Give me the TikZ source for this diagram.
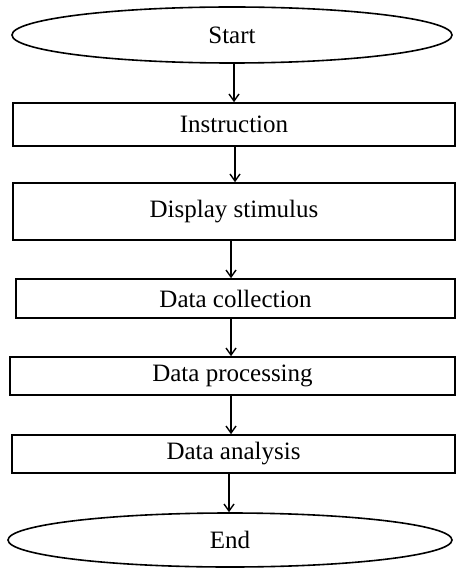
\documentclass[tikz,border=0pt]{standalone}
\usepackage{fontspec}
\setmainfont{Liberation Serif}
\usetikzlibrary{shapes.geometric,arrows.meta}
\begin{document}
\begin{tikzpicture}[x=1pt,y=-1pt,
  box/.style={draw=black,line width=1.6pt,rectangle,inner sep=0pt,font=\fontsize{25}{28}\selectfont},
  oval/.style={draw=black,line width=1.6pt,ellipse,inner sep=0pt,font=\fontsize{25}{28}\selectfont},
  arr/.style={draw=black,line width=1.4pt,-{Straight Barb[length=7pt,width=10pt,line width=1.4pt]}}]
\useasboundingbox (0,0) rectangle (456,569);
\node[oval,minimum width=440pt,minimum height=56pt] (start) at (232,35) {Start};
\node[box,minimum width=442pt,minimum height=43pt] (instr) at (234,124.5) {Instruction};
\node[box,minimum width=442pt,minimum height=57pt] (disp) at (234,211.5) {Display stimulus};
\node[box,minimum width=439pt,minimum height=39pt] (coll) at (235.5,298.5) {Data collection};
\node[box,minimum width=445pt,minimum height=38pt] (proc) at (232.5,376) {Data processing};
\node[box,minimum width=443pt,minimum height=38pt] (anal) at (233.5,454) {Data analysis};
\node[oval,minimum width=444pt,minimum height=54pt] (end) at (230,540) {End};
\draw[arr] (start.south -| 234,0) -- (instr.north -| 234,0);
\draw[arr] (instr.south -| 235,0) -- (disp.north -| 235,0);
\draw[arr] (disp.south -| 231,0) -- (coll.north -| 231,0);
\draw[arr] (coll.south -| 231,0) -- (proc.north -| 231,0);
\draw[arr] (proc.south -| 231,0) -- (anal.north -| 231,0);
\draw[arr] (anal.south -| 229,0) -- (end.north -| 229,0);
\end{tikzpicture}
\end{document}
